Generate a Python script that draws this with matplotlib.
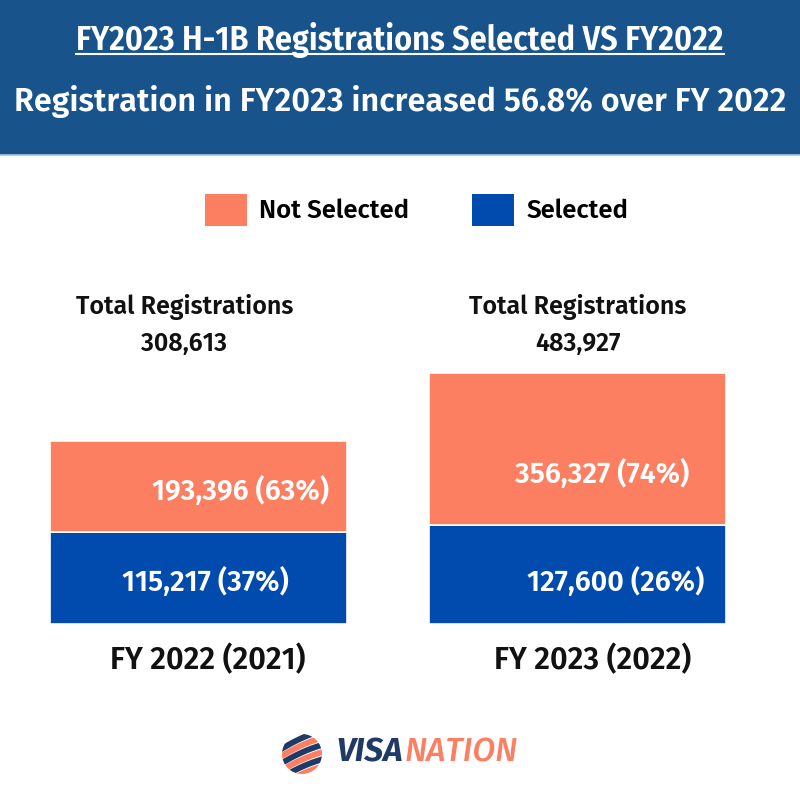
"""H-1B registrations selected vs not selected, FY2022 vs FY2023."""

import matplotlib
matplotlib.use("Agg")
import matplotlib.pyplot as plt
import numpy as np
from matplotlib.patches import Rectangle, Circle
from matplotlib.lines import Line2D
from matplotlib.transforms import blended_transform_factory, offset_copy

# data
categories = ["FY 2022 (2021)", "FY 2023 (2022)"]
selected = [115217, 127600]
not_selected = [193396, 356327]
selected_pct = [37, 26]
not_selected_pct = [63, 74]
totals = [308613, 483927]

title = "FY2023 H-1B Registrations Selected VS FY2022"
subtitle = "Registration in FY2023 increased 56.8% over FY 2022"

# colours
HEADER = "#18548b"
CORAL = "#fc7f62"
BLUE = "#004bad"
NAVY = "#1f3a66"

FONT = "Fira Sans"
W, H = 800, 800


def fy(py):
    return 1 - py / H


fig = plt.figure(figsize=(8, 8), dpi=100)
fig.patch.set_facecolor("white")

# header band
fig.patches.append(Rectangle((0, fy(155)), 1, 155 / H, transform=fig.transFigure,
                             facecolor=HEADER, edgecolor="none", zorder=0))
fig.lines.append(Line2D([0, 1], [fy(155), fy(155)], transform=fig.transFigure,
                        color="#a9c4e0", lw=1.2))
t1 = fig.text(0.5, fy(40), title, ha="center", va="center", color="white",
              family="Fira Sans Condensed", weight=600, fontsize=24.5)
fig.text(0.5, fy(102), subtitle, ha="center", va="center", color="white",
         family=FONT, weight=600, fontsize=23.3)

# bars (the source graphic compresses heights, so use a power scale)
POW = 0.7
fwd = lambda y: np.power(np.clip(y, 0, None), POW)
inv = lambda y: np.power(np.clip(y, 0, None), 1 / POW)

ax = fig.add_axes([0, fy(624), 1, 251 / H])
x = np.arange(len(categories))
width = 0.7826
b_sel = ax.bar(x, selected, width, color=BLUE, edgecolor="white", lw=1.2, label="Selected")
b_not = ax.bar(x, not_selected, width, bottom=selected, color=CORAL, edgecolor="white",
               lw=1.2, label="Not Selected")
ax.set_yscale("function", functions=(fwd, inv))
ax.set_ylim(0, max(totals))
ax.set_xlim(-0.523, 1.585)
ax.axis("off")

# value labels inside segments, offsets in pixels (dx, dy)
sel_off = [(7, -4), (38, -7)]
not_off = [(42, -5), (24, -25)]
for i in range(len(categories)):
    mid = inv((fwd(0) + fwd(selected[i])) / 2)
    tr = offset_copy(ax.transData, fig=fig, x=sel_off[i][0], y=sel_off[i][1], units="dots")
    ax.text(x[i], mid, f"{selected[i]:,} ({selected_pct[i]}%)", transform=tr,
            ha="center", va="center", color="white", family=FONT, weight=600,
            fontsize=20.5, clip_on=False)
    mid = inv((fwd(selected[i]) + fwd(totals[i])) / 2)
    tr = offset_copy(ax.transData, fig=fig, x=not_off[i][0], y=not_off[i][1], units="dots")
    ax.text(x[i], mid, f"{not_selected[i]:,} ({not_selected_pct[i]}%)", transform=tr,
            ha="center", va="center", color="white", family=FONT, weight=600,
            fontsize=20.5, clip_on=False)

# totals above, category names below
top_dx = [-14, 0]
cat_dx = [9, 15]
bl = blended_transform_factory(ax.transData, fig.transFigure)
for i in range(len(categories)):
    tr = offset_copy(bl, fig=fig, x=top_dx[i], y=0, units="dots")
    ax.text(x[i], fy(307), "Total Registrations", transform=tr, ha="center", va="center",
            family=FONT, weight=600, fontsize=18, color="#111111", clip_on=False)
    ax.text(x[i], fy(344), f"{totals[i]:,}", transform=tr, ha="center", va="center",
            family=FONT, weight=600, fontsize=18, color="#111111", clip_on=False)
    tr = offset_copy(bl, fig=fig, x=cat_dx[i], y=0, units="dots")
    ax.text(x[i], fy(660), categories[i], transform=tr, ha="center", va="center",
            family=FONT, weight=600, fontsize=22, color="#111111", clip_on=False)

# legend
leg = fig.legend(handles=[b_not, b_sel], labels=["Not Selected", "Selected"],
                 loc="center", bbox_to_anchor=(0.521, fy(210)), ncol=2, frameon=False,
                 prop={"family": FONT, "weight": 600, "size": 18.5},
                 handlelength=1.63, handleheight=1.56, handletextpad=0.5,
                 columnspacing=2.45)
for h in leg.legend_handles:
    h.set_edgecolor("none")

# logo
lax = fig.add_axes([282 / W, fy(774), 40 / W, 40 / H])
lax.set_xlim(-1, 1)
lax.set_ylim(-1, 1)
lax.set_aspect("equal")
lax.axis("off")
clip = Circle((0, 0), 1, transform=lax.transData)
xs = np.linspace(-1.2, 1.2, 50)
for k, c in enumerate([NAVY, CORAL, NAVY, CORAL, NAVY, CORAL]):
    off = 0.8 - k * 0.36
    ln, = lax.plot(xs, 0.45 * xs + off - 0.08 * xs ** 2, color=c, lw=4.2,
                   solid_capstyle="butt")
    ln.set_clip_path(clip)
visa = fig.text(336 / W, fy(753), "VISA", ha="left", va="center", color=NAVY,
                family=FONT, weight=700, style="italic", fontsize=24)

# underline the title, join the logo words
fig.canvas.draw()
bb = t1.get_window_extent()
fig.lines.append(Line2D([bb.x0 / W, bb.x1 / W], [fy(54), fy(54)],
                        transform=fig.transFigure, color="white", lw=1.5))
vb = visa.get_window_extent()
fig.text(vb.x1 / W + 0.002, fy(753), "NATION", ha="left", va="center", color=CORAL,
         family=FONT, weight=500, style="italic", fontsize=24)

fig.savefig("out.png", dpi=100)
